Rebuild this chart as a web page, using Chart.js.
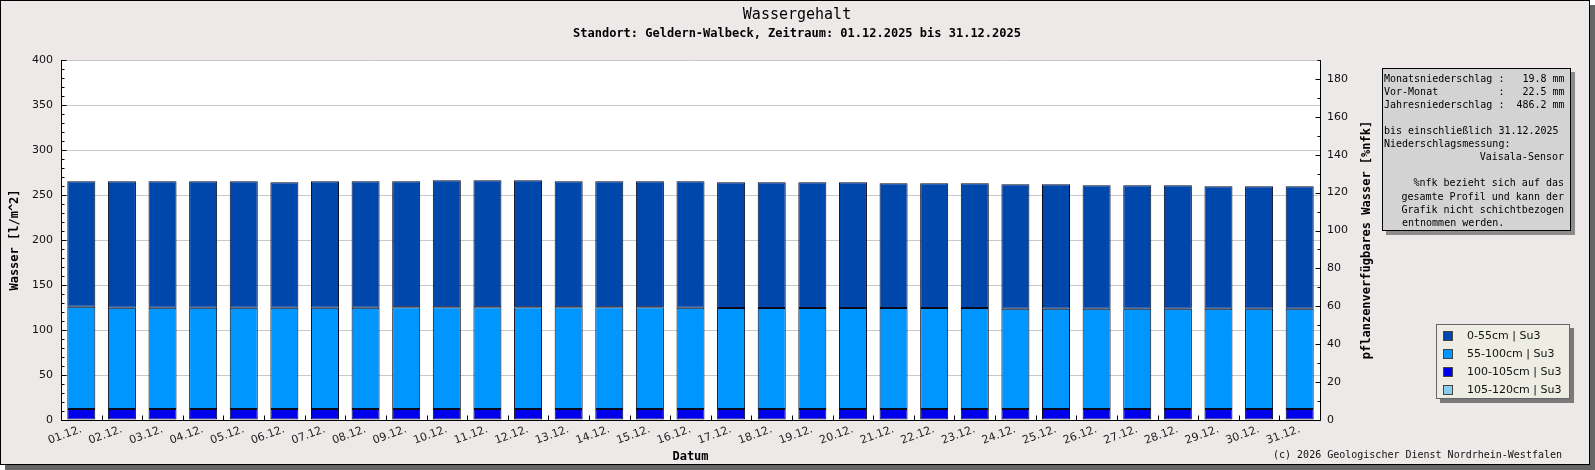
<!DOCTYPE html>
<html><head><meta charset="utf-8">
<script src="https://cdn.jsdelivr.net/npm/chart.js@4.4.1/dist/chart.umd.min.js"></script>
<style>html,body{margin:0;padding:0;background:#fff;overflow:hidden}canvas{display:block}</style>
</head><body>
<canvas id="c" width="1595" height="470" style="width:1595px;height:470px"></canvas>
<script>
// ---------- data ----------
const categories = ['01.12.','02.12.','03.12.','04.12.','05.12.','06.12.','07.12.','08.12.','09.12.','10.12.',
  '11.12.','12.12.','13.12.','14.12.','15.12.','16.12.','17.12.','18.12.','19.12.','20.12.',
  '21.12.','22.12.','23.12.','24.12.','25.12.','26.12.','27.12.','28.12.','29.12.','30.12.','31.12.'];
const layer0_55 = [139.3,140.4,140.4,140.4,140.4,139.3,140.4,140.4,139.9,141.0,
  141.0,141.0,139.9,139.9,139.9,140.4,139.7,139.7,139.7,139.7,
  138.6,138.6,138.6,138.2,138.2,137.0,137.0,137.0,135.9,135.9,135.9];
const layer55_100 = [113.7,112.6,112.6,112.6,112.6,112.6,112.6,112.6,113.1,113.1,
  113.1,113.1,113.1,113.1,113.1,112.6,112.2,112.2,112.2,112.2,
  112.2,112.2,112.2,111.5,111.5,111.5,111.5,111.5,111.5,111.5,111.5];
const layer100_105 = [12.2,12.2,12.2,12.2,12.2,12.2,12.2,12.2,12.2,12.2,
  12.2,12.2,12.2,12.2,12.2,12.2,12.2,12.2,12.2,12.2,
  12.2,12.2,12.2,12.2,12.2,12.2,12.2,12.2,12.2,12.2,12.2];
const layer105_120 = [0,0,0,0,0,0,0,0,0,0,0,0,0,0,0,0,0,0,0,0,0,0,0,0,0,0,0,0,0,0,0];
const seriesLabels = ['0-55cm | Su3','55-100cm | Su3','100-105cm | Su3','105-120cm | Su3'];
const seriesColors = ['#0047AB','#0096FF','#0000EE','#87CEEB'];
const leftAxis = {min:0, max:400, step:50, minor:10};
const rightAxis = {min:0, max:190, step:20, minor:10};
const titleText = 'Wassergehalt';
const subtitleText = 'Standort: Geldern-Walbeck, Zeitraum: 01.12.2025 bis 31.12.2025';
const xTitle = 'Datum';
const yTitle = 'Wasser [l/m^2]';
const y2Title = 'pflanzenverfügbares Wasser [%nfk]';
const copyright = '(c) 2026 Geologischer Dienst Nordrhein-Westfalen';
const infoLines = ['Monatsniederschlag :   19.8 mm','Vor-Monat          :   22.5 mm','Jahresniederschlag :  486.2 mm','',
  'bis einschließlich 31.12.2025','Niederschlagsmessung:','Vaisala-Sensor','',
  '%nfk bezieht sich auf das','gesamte Profil und kann der','Grafik nicht schichtbezogen','entnommen werden.'];
const infoAlign = ['l','l','l','l','l','l','r','l','r','r','r','i'];

// ---------- drawing ----------
const MONO = '"DejaVu Sans Mono", monospace';
Chart.defaults.font.family = '"DejaVu Sans", sans-serif';

const deco = {
  id: 'deco',
  beforeDraw(chart) {
    const ctx = chart.ctx, a = chart.chartArea;
    ctx.save();
    ctx.fillStyle = '#ffffff'; ctx.fillRect(0, 0, 1595, 470);
    ctx.fillStyle = '#666666'; ctx.fillRect(5, 5, 1590, 465);
    ctx.fillStyle = '#ECE9E8'; ctx.fillRect(0, 0, 1590, 465);
    ctx.strokeStyle = '#000'; ctx.lineWidth = 1; ctx.strokeRect(0.5, 0.5, 1589, 464);
    ctx.fillStyle = '#ffffff'; ctx.fillRect(a.left, a.top, a.right - a.left, a.bottom - a.top);
    ctx.restore();
  },
  afterDatasetsDraw(chart) {
    const ctx = chart.ctx, a = chart.chartArea;
    const ys = chart.scales.y, y2 = chart.scales.y2, xs = chart.scales.x;
    ctx.save();
    ctx.strokeStyle = '#000'; ctx.lineWidth = 1;
    ctx.beginPath();
    const L = Math.round(a.left) + 0.5, R = Math.round(a.right) + 0.5, B = Math.round(a.bottom) + 0.5;
    ctx.moveTo(L, a.top); ctx.lineTo(L, B);
    ctx.moveTo(R, a.top); ctx.lineTo(R, B);
    ctx.moveTo(L, B); ctx.lineTo(R, B);
    for (let v = leftAxis.min; v <= leftAxis.max; v += leftAxis.minor) {
      const y = Math.round(ys.getPixelForValue(v)) + 0.5;
      const len = (v % leftAxis.step === 0) ? 5 : 3;
      ctx.moveTo(L, y); ctx.lineTo(L + len, y);
    }
    for (let v = rightAxis.min; v <= rightAxis.max; v += rightAxis.minor) {
      const y = Math.round(y2.getPixelForValue(v)) + 0.5;
      const len = (v % rightAxis.step === 0) ? 5 : 3;
      ctx.moveTo(R - len, y); ctx.lineTo(R, y);
    }
    for (let i = 0; i <= categories.length; i++) {
      const x = Math.round(xs.getPixelForValue(i - 0.5)) + 0.5;
      ctx.moveTo(x, B - 5); ctx.lineTo(x, B);
    }
    ctx.stroke();
    ctx.restore();
  },
  afterDraw(chart) {
    const ctx = chart.ctx, a = chart.chartArea;
    ctx.save();
    ctx.fillStyle = '#000';
    ctx.textAlign = 'center'; ctx.textBaseline = 'middle';
    ctx.font = '15px ' + MONO; ctx.fillText(titleText, 797, 15);
    ctx.font = 'bold 12px ' + MONO; ctx.fillText(subtitleText, 797, 34);
    ctx.fillText(xTitle, (a.left + a.right) / 2, 457);
    ctx.save(); ctx.translate(15, (a.top + a.bottom) / 2); ctx.rotate(-Math.PI / 2);
    ctx.fillText(yTitle, 0, 0); ctx.restore();
    ctx.save(); ctx.translate(1367, (a.top + a.bottom) / 2); ctx.rotate(-Math.PI / 2);
    ctx.fillText(y2Title, 0, 0); ctx.restore();
    ctx.font = '10px ' + MONO; ctx.textAlign = 'right';
    ctx.fillStyle = '#111';
    ctx.fillText(copyright, 1562, 455);

    // info box
    ctx.fillStyle = '#8C8C8C'; ctx.fillRect(1386, 72, 189, 163);
    ctx.fillStyle = '#D3D3D3'; ctx.fillRect(1382, 68, 189, 163);
    ctx.strokeStyle = '#000'; ctx.lineWidth = 1; ctx.strokeRect(1382.5, 68.5, 188, 162);
    ctx.fillStyle = '#000'; ctx.font = '10px ' + MONO;
    infoLines.forEach((t, i) => {
      const y = 79.5 + i * 13.05;
      const al = infoAlign[i];
      if (al === 'r') { ctx.textAlign = 'right'; ctx.fillText(t, 1564, y); }
      else if (al === 'i') { ctx.textAlign = 'left'; ctx.fillText(t, 1402, y); }
      else { ctx.textAlign = 'left'; ctx.fillText(t, 1384, y); }
    });

    // legend
    ctx.fillStyle = '#7A7A7A'; ctx.fillRect(1440, 328, 134, 75);
    ctx.fillStyle = '#EDEDE3'; ctx.fillRect(1436, 324, 134, 75);
    ctx.strokeStyle = '#666'; ctx.strokeRect(1436.5, 324.5, 133, 74);
    ctx.font = '11px "DejaVu Sans", sans-serif'; ctx.textAlign = 'left';
    seriesLabels.forEach((lab, i) => {
      const cy = 336 + i * 18;
      ctx.fillStyle = seriesColors[i]; ctx.fillRect(1443, cy - 5, 10, 10);
      ctx.strokeStyle = '#444'; ctx.strokeRect(1443.5, cy - 4.5, 9, 9);
      ctx.fillStyle = '#111'; ctx.fillText(lab, 1467, cy);
    });
    ctx.restore();
  }
};

const datasets = [
  {label: seriesLabels[3], data: layer105_120, backgroundColor: seriesColors[3]},
  {label: seriesLabels[2], data: layer100_105, backgroundColor: seriesColors[2]},
  {label: seriesLabels[1], data: layer55_100, backgroundColor: seriesColors[1]},
  {label: seriesLabels[0], data: layer0_55, backgroundColor: seriesColors[0]}
].map(d => Object.assign(d, {borderColor: '#0a0a1e', borderWidth: 1, borderSkipped: false,
  categoryPercentage: 1.0, barPercentage: 0.69, yAxisID: 'y'}));

new Chart(document.getElementById('c'), {
  type: 'bar',
  data: {labels: categories, datasets},
  plugins: [deco],
  options: {
    responsive: false, animation: false, devicePixelRatio: 1,
    layout: {padding: {top: 60, left: 0, right: 0, bottom: 0}},
    plugins: {legend: {display: false}, title: {display: false}, tooltip: {enabled: false}},
    scales: {
      x: {
        stacked: true, offset: true,
        grid: {display: false, drawTicks: false},
        border: {display: false},
        ticks: {autoSkip: false, minRotation: 20, maxRotation: 20, padding: 3, color: '#222', font: {size: 11}},
        afterFit(s) { s.height = 50; }
      },
      y: {
        stacked: true, position: 'left', min: leftAxis.min, max: leftAxis.max,
        grid: {color: '#C8C8C8', lineWidth: 1, drawTicks: false},
        border: {display: false},
        ticks: {stepSize: leftAxis.step, padding: 8, color: '#111', font: {size: 11}, includeBounds: false},
        afterFit(s) { s.width = 61; }
      },
      y2: {
        position: 'right', min: rightAxis.min, max: rightAxis.max,
        grid: {display: false, drawTicks: false},
        border: {display: false},
        ticks: {stepSize: rightAxis.step, padding: 7, color: '#111', font: {size: 11}, includeBounds: false},
        afterFit(s) { s.width = 275; }
      }
    }
  }
});
</script>
</body></html>
